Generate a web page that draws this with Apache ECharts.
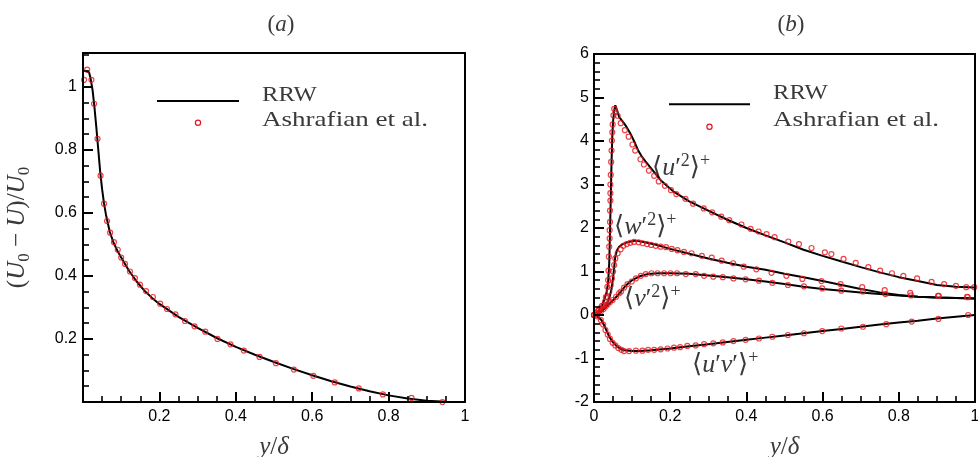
<!DOCTYPE html>
<html><head><meta charset="utf-8">
<script src="https://cdn.jsdelivr.net/npm/echarts@6/dist/echarts.min.js"></script>
<style>html,body{margin:0;padding:0;background:#fff}#c{width:978px;height:457px}</style>
</head><body><div id="c"></div><script>
// ---------- Panel (a): velocity defect ----------
const aRrwX = [0.008,0.012,0.016,0.020,0.025,0.030,0.035,0.040,0.045,0.050,0.055,0.060,0.070,0.080,0.090,0.100,0.120,0.140,0.160,0.180,0.200,0.250,0.300,0.350,0.400,0.450,0.500,0.550,0.600,0.650,0.700,0.750,0.800,0.850,0.900,0.950];
const aRrwY = [1.050,1.055,1.045,1.025,0.990,0.935,0.870,0.800,0.730,0.675,0.630,0.595,0.540,0.505,0.480,0.458,0.417,0.383,0.354,0.331,0.311,0.270,0.235,0.203,0.175,0.150,0.127,0.105,0.085,0.066,0.049,0.034,0.021,0.011,0.004,0.001];
const aAshX = [0.003,0.011,0.022,0.029,0.038,0.046,0.055,0.063,0.071,0.081,0.091,0.100,0.110,0.123,0.136,0.149,0.165,0.183,0.202,0.220,0.242,0.267,0.292,0.320,0.352,0.386,0.421,0.462,0.505,0.552,0.603,0.659,0.722,0.785,0.860,0.941];
const aAshY = [1.022,1.054,1.022,0.946,0.835,0.718,0.629,0.574,0.537,0.507,0.483,0.458,0.438,0.414,0.393,0.372,0.352,0.333,0.312,0.295,0.278,0.257,0.240,0.223,0.200,0.183,0.163,0.143,0.123,0.103,0.083,0.062,0.043,0.024,0.013,0.000];

// ---------- Panel (b): Reynolds stresses ----------
const uuRrwX = [0,0.010,0.020,0.027,0.033,0.037,0.040,0.042,0.044,0.046,0.048,0.050,0.053,0.056,0.060,0.066,0.075,0.085,0.095,0.105,0.115,0.125,0.135,0.150,0.175,0.210,0.250,0.300,0.350,0.400,0.450,0.500,0.550,0.600,0.650,0.700,0.750,0.800,0.850,0.900,0.950,1.000];
const uuRrwY = [0,0.06,0.20,0.35,0.52,0.75,1.20,1.90,2.70,3.50,4.10,4.45,4.70,4.82,4.72,4.55,4.45,4.33,4.18,4.00,3.80,3.65,3.53,3.37,3.10,2.83,2.61,2.40,2.19,2.00,1.83,1.67,1.50,1.36,1.23,1.10,0.98,0.87,0.78,0.69,0.65,0.63];
const uuAshX = [0,0.006,0.012,0.017,0.026,0.031,0.035,0.037,0.038,0.039,0.040,0.041,0.041,0.042,0.042,0.043,0.043,0.043,0.044,0.045,0.046,0.047,0.048,0.049,0.051,0.053,0.056,0.062,0.070,0.081,0.091,0.101,0.108,0.122,0.131,0.144,0.158,0.170,0.186,0.202,0.216,0.240,0.260,0.288,0.310,0.334,0.355,0.387,0.411,0.432,0.453,0.474,0.510,0.538,0.571,0.606,0.623,0.655,0.687,0.720,0.751,0.782,0.812,0.848,0.886,0.919,0.950,0.977,0.998];
const uuAshY = [0,0.05,0.10,0.16,0.23,0.41,0.65,0.80,1.02,1.34,1.57,1.76,1.95,2.14,2.40,2.63,2.80,3.00,3.22,3.52,3.78,4.01,4.20,4.38,4.59,4.74,4.67,4.58,4.41,4.25,4.10,3.92,3.78,3.58,3.46,3.32,3.20,3.07,2.97,2.87,2.78,2.67,2.56,2.45,2.36,2.26,2.18,2.08,1.98,1.92,1.86,1.79,1.69,1.63,1.54,1.44,1.40,1.29,1.20,1.10,1.02,0.96,0.90,0.84,0.76,0.71,0.67,0.64,0.64];

const wwRrwX = [0,0.020,0.030,0.037,0.042,0.046,0.050,0.053,0.056,0.060,0.066,0.075,0.090,0.110,0.130,0.160,0.200,0.250,0.300,0.350,0.400,0.450,0.500,0.550,0.600,0.650,0.700,0.750,0.800,0.850,0.900,0.950,1.000];
const wwRrwY = [0,0.10,0.20,0.32,0.45,0.60,0.85,1.10,1.35,1.48,1.57,1.63,1.68,1.71,1.68,1.62,1.52,1.41,1.30,1.20,1.11,1.04,0.95,0.87,0.78,0.69,0.60,0.52,0.46,0.42,0.40,0.39,0.38];
const wwAshX = [0,0.012,0.021,0.029,0.035,0.040,0.044,0.047,0.050,0.053,0.056,0.062,0.070,0.077,0.086,0.095,0.105,0.117,0.128,0.139,0.150,0.162,0.175,0.189,0.204,0.219,0.236,0.256,0.283,0.309,0.335,0.365,0.393,0.426,0.466,0.505,0.547,0.597,0.647,0.704,0.763,0.830,0.903,0.979];
const wwAshY = [0,0.115,0.21,0.31,0.41,0.54,0.69,0.84,1.00,1.15,1.30,1.42,1.51,1.59,1.63,1.66,1.68,1.67,1.65,1.63,1.61,1.59,1.57,1.56,1.52,1.49,1.45,1.42,1.36,1.32,1.25,1.19,1.11,1.05,0.97,0.90,0.83,0.78,0.71,0.64,0.57,0.51,0.44,0.42];

const vvRrwX = [0,0.010,0.020,0.030,0.040,0.050,0.060,0.070,0.080,0.090,0.100,0.120,0.140,0.170,0.200,0.250,0.300,0.350,0.400,0.450,0.500,0.550,0.600,0.650,0.700,0.750,0.800,0.850,0.900,0.950,1.000];
const vvRrwY = [0,0.02,0.08,0.17,0.26,0.34,0.43,0.53,0.64,0.73,0.80,0.89,0.94,0.96,0.96,0.95,0.91,0.87,0.82,0.77,0.71,0.65,0.60,0.56,0.52,0.48,0.45,0.42,0.40,0.39,0.38];
const vvAshX = [0,0.010,0.018,0.025,0.031,0.036,0.042,0.049,0.058,0.066,0.071,0.079,0.088,0.099,0.110,0.123,0.136,0.151,0.167,0.184,0.201,0.218,0.241,0.267,0.289,0.313,0.338,0.366,0.398,0.433,0.468,0.509,0.551,0.599,0.649,0.706,0.765,0.832,0.905,0.981];
const vvAshY = [0,0.03,0.08,0.14,0.20,0.25,0.30,0.345,0.42,0.50,0.54,0.63,0.71,0.77,0.84,0.90,0.94,0.96,0.96,0.96,0.96,0.96,0.94,0.94,0.90,0.88,0.87,0.84,0.82,0.79,0.74,0.69,0.66,0.61,0.56,0.54,0.48,0.45,0.44,0.41];

const uvRrwX = [0,0.010,0.020,0.030,0.040,0.050,0.060,0.070,0.080,0.100,0.120,0.150,0.200,0.250,0.300,0.350,0.400,0.450,0.500,0.550,0.600,0.650,0.700,0.750,0.800,0.850,0.900,0.950,1.000];
const uvRrwY = [0,-0.04,-0.12,-0.30,-0.50,-0.63,-0.72,-0.78,-0.81,-0.83,-0.83,-0.81,-0.77,-0.72,-0.67,-0.62,-0.57,-0.52,-0.47,-0.42,-0.37,-0.32,-0.27,-0.22,-0.17,-0.13,-0.08,-0.04,0.0];
const uvAshX = [0,0.008,0.018,0.024,0.030,0.036,0.042,0.049,0.056,0.064,0.072,0.079,0.092,0.110,0.127,0.142,0.158,0.175,0.193,0.210,0.226,0.245,0.267,0.289,0.313,0.338,0.366,0.398,0.433,0.468,0.509,0.551,0.599,0.649,0.706,0.767,0.834,0.904,0.982];
const uvAshY = [0,-0.03,-0.115,-0.22,-0.345,-0.45,-0.55,-0.64,-0.70,-0.76,-0.80,-0.83,-0.83,-0.82,-0.82,-0.80,-0.80,-0.79,-0.77,-0.75,-0.74,-0.71,-0.70,-0.67,-0.65,-0.63,-0.60,-0.57,-0.54,-0.50,-0.46,-0.42,-0.37,-0.31,-0.27,-0.21,-0.15,-0.09,0.0];

// ---------- legend / title texts ----------
const legendNames = ['RRW', 'Ashrafian et al.'];
const panelTitles = ['a', 'b'];

const SERIF = "'Liberation Serif','DejaVu Serif',serif";
const SANS = "'Liberation Sans',Arial,sans-serif";
const TXT = '#3a3a3a';
const RED = '#e8141b';
const AXZ = 6;

const zip = (xs, ys) => xs.map((x, i) => [x, ys[i]]);

function mathRich(size) {
  const s = Math.round(size * 0.68);
  return {
    n: {fontFamily: SERIF, fontSize: size, fontWeight: 'normal', color: TXT, fill: TXT, lineHeight: size + 6},
    i: {fontFamily: SERIF, fontSize: size, fontWeight: 'normal', fontStyle: 'italic', color: TXT, fill: TXT, lineHeight: size + 6},
    sup: {fontFamily: SERIF, fontSize: s, fontWeight: 'normal', color: TXT, fill: TXT, lineHeight: s, verticalAlign: 'top'},
    sub: {fontFamily: SERIF, fontSize: s, fontWeight: 'normal', color: TXT, fill: TXT, lineHeight: Math.round(size * 0.4), verticalAlign: 'bottom'}
  };
}

const majorTick = {show: true, inside: true, length: 10, lineStyle: {color: '#000', width: 2}};
const minorTickStyle = (n) => ({show: true, splitNumber: n, length: 6, lineStyle: {color: '#000', width: 1.6}});
const axisLineStyle = {show: true, onZero: false, lineStyle: {color: '#000', width: 2}};

function xAxisDef(grid, showZero) {
  return {
    type: 'value', gridIndex: grid, position: 'bottom', min: 0, max: 1, interval: 0.2, z: AXZ,
    axisLine: axisLineStyle, axisTick: majorTick, minorTick: minorTickStyle(4),
    splitLine: {show: false}, minorSplitLine: {show: false},
    axisLabel: {color: '#000', fontFamily: SANS, fontSize: 16, margin: 7,
      formatter: v => (Math.abs(v) < 1e-9 && !showZero) ? '' : String(+(+v).toFixed(2))},
    name: '{i|y}{n|/}{i|δ}', nameLocation: 'middle', nameGap: 30,
    nameTextStyle: {rich: mathRich(25)}
  };
}
// plain frame edges (top / right) without ticks
function frameAxis(grid, pos, min, max) {
  return {type: 'value', gridIndex: grid, position: pos, min, max, z: AXZ,
    axisLine: axisLineStyle, axisTick: {show: false}, axisLabel: {show: false}, splitLine: {show: false}};
}

const lineStyle = {color: '#000', width: 2};
function lineSeries(name, xi, yi, xs, ys) {
  return {type: 'line', name, xAxisIndex: xi, yAxisIndex: yi, data: zip(xs, ys),
    showSymbol: false, symbol: 'none', lineStyle, smooth: false, z: 2, silent: true};
}
function ptSeries(name, xi, yi, xs, ys) {
  return {type: 'scatter', name, xAxisIndex: xi, yAxisIndex: yi, data: zip(xs, ys),
    symbol: 'circle', symbolSize: 5,
    itemStyle: {color: 'rgba(0,0,0,0)', borderColor: RED, borderWidth: 1.2}, z: 3, silent: true};
}

function legendGraphics(lx1, lx2, ly, mx, my, tx, ty1, ty2) {
  return [
    {type: 'line', shape: {x1: lx1, y1: ly, x2: lx2, y2: ly}, style: {stroke: '#000', lineWidth: 2}},
    {type: 'circle', shape: {cx: mx, cy: my, r: 2.6}, style: {fill: 'none', stroke: RED, lineWidth: 1.2}},
    {type: 'text', x: tx, y: ty1, scaleX: 1.12, style: {text: legendNames[0], fontFamily: SERIF, fontSize: 22, fill: TXT, align: 'left', verticalAlign: 'middle'}},
    {type: 'text', x: tx, y: ty2, scaleX: 1.23, style: {text: legendNames[1], fontFamily: SERIF, fontSize: 22, fill: TXT, align: 'left', verticalAlign: 'middle'}}
  ];
}
function annRich() {
  const r = mathRich(26);
  r.pr = {fontFamily: SERIF, fontSize: 26, fontWeight: 'normal', color: TXT, fill: TXT, lineHeight: 32};
  return r;
}
function mathText(x, y, text) {
  return {type: 'text', x, y, style: {text, rich: annRich(), align: 'left', verticalAlign: 'middle', fill: TXT}};
}

const chart = echarts.init(document.getElementById('c'), null, {renderer: 'canvas'});
chart.setOption({
  animation: false,
  backgroundColor: '#fff',
  title: panelTitles.map((t, k) => ({
    text: '{n|(}{i|' + t + '}{n|)}', left: k === 0 ? 276 : 786, top: 5, textAlign: 'center',
    textStyle: {fontWeight: 'normal', rich: mathRich(23)}
  })),
  grid: [
    {left: 83, top: 53, width: 382, height: 349, show: false, containLabel: false, outerBoundsMode: 'none'},
    {left: 594, top: 54, width: 381, height: 348, show: false, containLabel: false, outerBoundsMode: 'none'}
  ],
  xAxis: [
    xAxisDef(0, false),
    xAxisDef(1, true),
    frameAxis(0, 'top', 0, 1),
    frameAxis(1, 'top', 0, 1)
  ],
  yAxis: [
    {type: 'value', gridIndex: 0, position: 'left', min: 0, max: 1.107, interval: 0.2, z: AXZ,
      axisLine: axisLineStyle, axisTick: majorTick, splitLine: {show: false},
      axisLabel: {color: '#000', fontFamily: SANS, fontSize: 16, margin: 6, showMaxLabel: false,
        formatter: v => (v <= 1e-9 || Math.abs(v / 0.2 - Math.round(v / 0.2)) > 1e-6) ? '' : String(+(+v).toFixed(2))},
      name: '{n|(}{i|U}{sub|0}{n| − }{i|U}{n|)/}{i|U}{sub|0}', nameLocation: 'middle', nameGap: 50,
      nameTextStyle: {rich: mathRich(25)}},
    {type: 'value', gridIndex: 0, position: 'left', offset: 0, min: 0, max: 1.107, interval: 0.05, z: AXZ,
      axisLine: {show: false}, axisLabel: {show: false}, splitLine: {show: false},
      axisTick: {show: true, inside: true, length: 6, lineStyle: {color: '#000', width: 1.6}}},
    {type: 'value', gridIndex: 1, position: 'left', min: -2, max: 6, interval: 1, z: AXZ,
      axisLine: axisLineStyle, axisTick: majorTick, minorTick: minorTickStyle(5),
      splitLine: {show: false}, minorSplitLine: {show: false},
      axisLabel: {color: '#000', fontFamily: SANS, fontSize: 16, margin: 5}},
    frameAxis(0, 'right', 0, 1.107),
    frameAxis(1, 'right', -2, 6)
  ],
  series: [
    lineSeries('RRW', 0, 0, aRrwX, aRrwY),
    ptSeries('Ashrafian et al.', 0, 0, aAshX, aAshY),
    lineSeries('RRW uu', 1, 2, uuRrwX, uuRrwY),
    lineSeries('RRW ww', 1, 2, wwRrwX, wwRrwY),
    lineSeries('RRW vv', 1, 2, vvRrwX, vvRrwY),
    lineSeries('RRW uv', 1, 2, uvRrwX, uvRrwY),
    ptSeries('Ashrafian uu', 1, 2, uuAshX, uuAshY),
    ptSeries('Ashrafian ww', 1, 2, wwAshX, wwAshY),
    ptSeries('Ashrafian vv', 1, 2, vvAshX, vvAshY),
    ptSeries('Ashrafian uv', 1, 2, uvAshX, uvAshY)
  ],
  graphic: [].concat(
    legendGraphics(157, 239, 101, 198, 122.7, 262, 95, 120),
    legendGraphics(669, 750, 104.3, 709.5, 126.7, 773, 93.5, 120),
    [
      mathText(652, 168, '{n|⟨}{i|u}{pr|′}{sup|2}{n|⟩}{sup|+}'),
      mathText(614, 227, '{n|⟨}{i|w}{pr|′}{sup|2}{n|⟩}{sup|+}'),
      mathText(624, 299, '{n|⟨}{i|v}{pr|′}{sup|2}{n|⟩}{sup|+}'),
      mathText(692, 365, '{n|⟨}{i|u}{pr|′}{i|v}{pr|′}{n|⟩}{sup|+}')
    ]
  )
});
</script></body></html>
